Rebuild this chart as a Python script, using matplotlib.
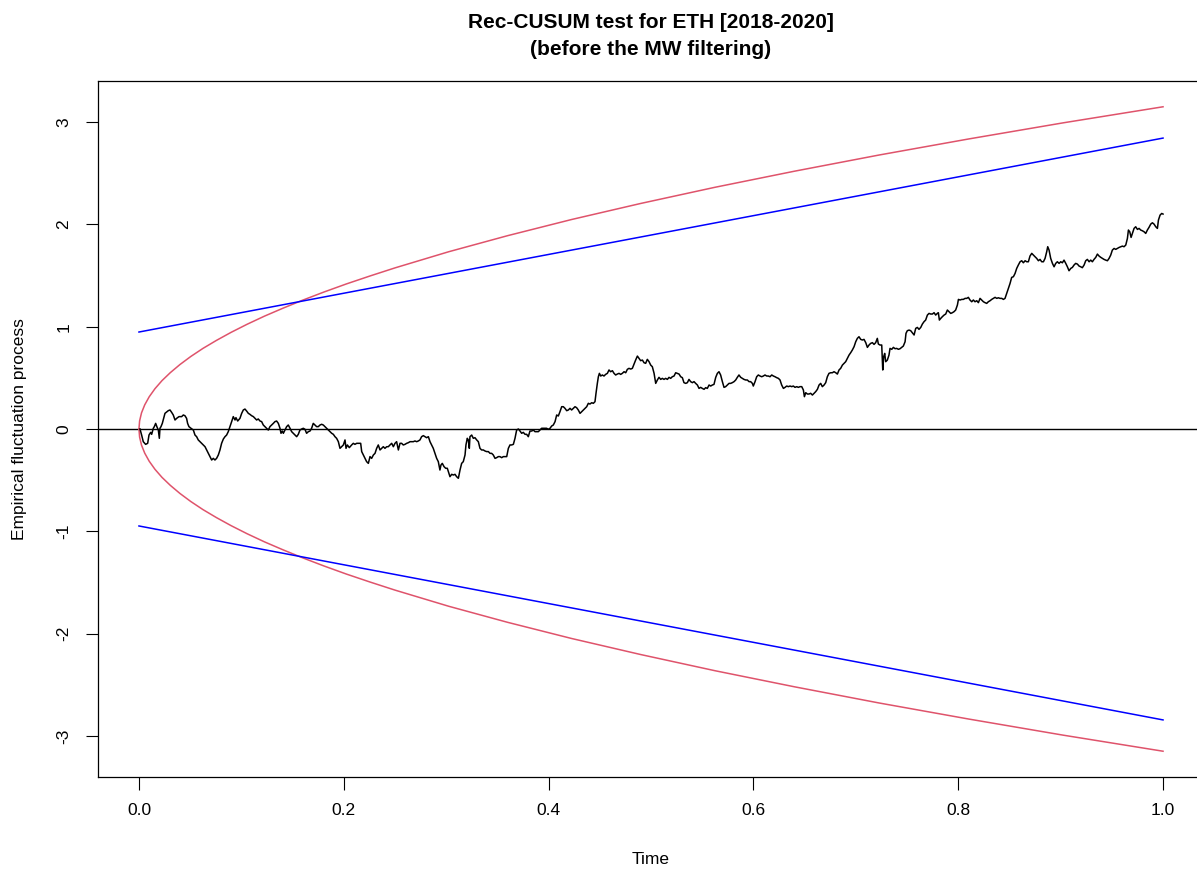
import matplotlib
matplotlib.use("Agg")
import matplotlib.pyplot as plt

plt.rcParams["font.family"] = ["Liberation Sans", "DejaVu Sans"]
plt.rcParams["axes.unicode_minus"] = False

# Rec-CUSUM empirical fluctuation process (time, value)
cusum_points = [
    (0.001, 0.0), (0.0026, -0.059), (0.0042, -0.124), (0.0065, -0.150), (0.0085, -0.140),
    (0.0098, -0.059), (0.0114, -0.033), (0.0124, -0.052), (0.0140, 0.007), (0.0150, 0.023),
    (0.0163, 0.055), (0.0176, 0.020), (0.0189, -0.010), (0.0199, -0.091), (0.0205, 0.007),
    (0.0215, 0.023), (0.0228, 0.055), (0.0241, 0.104), (0.0254, 0.153), (0.0273, 0.169),
    (0.0286, 0.179), (0.0303, 0.186), (0.0319, 0.163), (0.0335, 0.137), (0.0352, 0.088),
    (0.0368, 0.104), (0.0391, 0.121), (0.0417, 0.121), (0.0433, 0.137), (0.0449, 0.130),
    (0.0465, 0.104), (0.0475, 0.055), (0.0488, 0.023), (0.0508, 0.007), (0.0531, -0.010),
    (0.0547, -0.059), (0.0563, -0.075), (0.0579, -0.107), (0.0596, -0.124), (0.0612, -0.140),
    (0.0628, -0.156), (0.0645, -0.173), (0.0661, -0.205), (0.0677, -0.238), (0.0693, -0.270),
    (0.0710, -0.303), (0.0726, -0.287), (0.0742, -0.303), (0.0758, -0.287), (0.0775, -0.254),
    (0.0791, -0.205), (0.0807, -0.140), (0.0824, -0.098), (0.0840, -0.075), (0.0856, -0.059),
    (0.0872, -0.026), (0.0889, 0.023), (0.0905, 0.072), (0.0921, 0.121), (0.0938, 0.088),
    (0.0947, 0.111), (0.0964, 0.078), (0.0986, 0.104), (0.1003, 0.153), (0.1019, 0.186),
    (0.1035, 0.195), (0.1051, 0.176), (0.1068, 0.153), (0.1084, 0.143), (0.1100, 0.130),
    (0.1117, 0.121), (0.1133, 0.104), (0.1149, 0.088), (0.1165, 0.098), (0.1182, 0.078),
    (0.1198, 0.072), (0.1214, 0.039), (0.1230, 0.023), (0.1247, 0.007), (0.1263, -0.010),
    (0.1279, 0.023), (0.1296, 0.039), (0.1312, 0.055), (0.1328, 0.072), (0.1344, 0.078),
    (0.1361, 0.055), (0.1377, 0.007), (0.1387, -0.042), (0.1400, -0.020), (0.1410, -0.042),
    (0.1426, -0.010), (0.1442, 0.023), (0.1458, 0.039), (0.1475, 0.007), (0.1491, -0.026),
    (0.1507, -0.042), (0.1523, -0.059), (0.1540, -0.075), (0.1556, -0.052), (0.1572, -0.010),
    (0.1589, 0.0), (0.1605, 0.007), (0.1621, -0.003), (0.1637, -0.042), (0.1654, -0.026),
    (0.1670, -0.020), (0.1686, 0.007), (0.1702, 0.055), (0.1719, 0.039), (0.1735, 0.023),
    (0.1751, 0.023), (0.1768, 0.039), (0.1784, 0.046), (0.1800, 0.039), (0.1816, 0.023),
    (0.1833, 0.007), (0.1849, -0.010), (0.1865, -0.026), (0.1882, -0.042), (0.1898, -0.052),
    (0.1914, -0.075), (0.1930, -0.091), (0.1947, -0.124), (0.1963, -0.189),
    (0.1979, -0.173), (0.1996, -0.156), (0.2012, -0.107), (0.2022, -0.189), (0.2035, -0.156),
    (0.2054, -0.182), (0.2077, -0.156), (0.2093, -0.140), (0.2109, -0.150), (0.2126, -0.140),
    (0.2142, -0.140), (0.2165, -0.140), (0.2175, -0.221), (0.2191, -0.254), (0.2207, -0.287),
    (0.2223, -0.319), (0.2240, -0.336), (0.2256, -0.270), (0.2272, -0.287), (0.2289, -0.254),
    (0.2305, -0.238), (0.2321, -0.189), (0.2337, -0.156), (0.2354, -0.205), (0.2370, -0.189),
    (0.2386, -0.173), (0.2402, -0.189), (0.2419, -0.173), (0.2435, -0.173), (0.2451, -0.156),
    (0.2468, -0.140), (0.2484, -0.173), (0.2500, -0.140), (0.2516, -0.124), (0.2533, -0.205),
    (0.2549, -0.140), (0.2565, -0.140), (0.2581, -0.156), (0.2598, -0.150), (0.2614, -0.140),
    (0.2630, -0.134), (0.2647, -0.124), (0.2663, -0.124), (0.2679, -0.124), (0.2695, -0.117),
    (0.2712, -0.124), (0.2728, -0.117), (0.2744, -0.107), (0.2760, -0.075), (0.2777, -0.065),
    (0.2793, -0.075), (0.2809, -0.085), (0.2826, -0.075), (0.2842, -0.124), (0.2858, -0.156),
    (0.2874, -0.189), (0.2891, -0.238), (0.2907, -0.287), (0.2923, -0.319), (0.2939, -0.401),
    (0.2949, -0.352), (0.2962, -0.336), (0.2979, -0.368), (0.2995, -0.384), (0.3011, -0.384),
    (0.3027, -0.433), (0.3037, -0.466), (0.3054, -0.443), (0.3070, -0.450), (0.3086, -0.443),
    (0.3102, -0.466), (0.3119, -0.482), (0.3135, -0.401), (0.3151, -0.336), (0.3167, -0.319),
    (0.3184, -0.254), (0.3193, -0.156), (0.3206, -0.091), (0.3216, -0.107), (0.3226, -0.189),
    (0.3232, -0.075), (0.3249, -0.059), (0.3265, -0.091), (0.3281, -0.085), (0.3298, -0.107),
    (0.3314, -0.124), (0.3330, -0.189), (0.3346, -0.205), (0.3363, -0.205), (0.3379, -0.215),
    (0.3395, -0.221), (0.3412, -0.221), (0.3428, -0.238), (0.3444, -0.238), (0.3460, -0.254),
    (0.3477, -0.287), (0.3493, -0.280), (0.3509, -0.270), (0.3525, -0.270), (0.3542, -0.280),
    (0.3558, -0.270), (0.3574, -0.270), (0.3591, -0.270), (0.3607, -0.189), (0.3623, -0.156),
    (0.3639, -0.156), (0.3656, -0.150), (0.3672, -0.091), (0.3688, -0.010), (0.3705, 0.000),
    (0.3721, -0.020), (0.3737, -0.042), (0.3753, -0.033), (0.3770, -0.052), (0.3786, -0.052),
    (0.3802, -0.075), (0.3818, -0.020), (0.3835, -0.020), (0.3851, -0.010), (0.3867, -0.026),
    (0.3884, -0.026), (0.3900, -0.026), (0.3916, -0.010), (0.3932, 0.007), (0.3949, 0.007),
    (0.3965, 0.007), (0.3981, 0.007), (0.3997, -0.003), (0.4014, 0.007), (0.4030, 0.029),
    (0.4046, 0.039), (0.4063, 0.072), (0.4079, 0.137), (0.4095, 0.127), (0.4111, 0.169),
    (0.4128, 0.218), (0.4144, 0.218), (0.4160, 0.202), (0.4177, 0.179), (0.4193, 0.186),
    (0.4209, 0.202), (0.4225, 0.186), (0.4242, 0.202), (0.4258, 0.218), (0.4274, 0.208),
    (0.4290, 0.186), (0.4307, 0.153), (0.4323, 0.169), (0.4339, 0.186), (0.4356, 0.202),
    (0.4372, 0.218), (0.4388, 0.251), (0.4404, 0.244), (0.4421, 0.257), (0.4437, 0.251),
    (0.4453, 0.267), (0.4463, 0.349), (0.4476, 0.446), (0.4486, 0.511), (0.4496, 0.544),
    (0.4509, 0.518), (0.4525, 0.528), (0.4541, 0.518), (0.4557, 0.534), (0.4574, 0.544),
    (0.4590, 0.577), (0.4606, 0.560), (0.4623, 0.570), (0.4639, 0.544), (0.4655, 0.528),
    (0.4671, 0.537), (0.4688, 0.544), (0.4704, 0.534), (0.4720, 0.544), (0.4737, 0.560),
    (0.4753, 0.550), (0.4769, 0.583), (0.4785, 0.593), (0.4802, 0.586), (0.4818, 0.593),
    (0.4834, 0.635), (0.4850, 0.674), (0.4867, 0.713), (0.4883, 0.691), (0.4899, 0.668),
    (0.4916, 0.674), (0.4932, 0.648), (0.4948, 0.642), (0.4964, 0.681), (0.4981, 0.658),
    (0.4997, 0.625), (0.5013, 0.609), (0.5030, 0.544), (0.5046, 0.446), (0.5062, 0.479),
    (0.5078, 0.505), (0.5095, 0.485), (0.5111, 0.495), (0.5127, 0.485), (0.5143, 0.495),
    (0.5160, 0.485), (0.5176, 0.505), (0.5192, 0.495), (0.5208, 0.511), (0.5225, 0.518),
    (0.5241, 0.550), (0.5257, 0.544), (0.5274, 0.537), (0.5290, 0.511), (0.5306, 0.502),
    (0.5322, 0.453), (0.5339, 0.446), (0.5355, 0.453), (0.5371, 0.485), (0.5387, 0.463),
    (0.5404, 0.453), (0.5420, 0.463), (0.5436, 0.446), (0.5453, 0.430), (0.5469, 0.397),
    (0.5485, 0.407), (0.5501, 0.397), (0.5518, 0.388), (0.5534, 0.404), (0.5550, 0.397),
    (0.5567, 0.430), (0.5583, 0.420), (0.5599, 0.430), (0.5615, 0.436), (0.5632, 0.505),
    (0.5648, 0.544), (0.5664, 0.560), (0.5680, 0.528), (0.5697, 0.463), (0.5713, 0.407),
    (0.5729, 0.414), (0.5746, 0.430), (0.5762, 0.446), (0.5778, 0.446), (0.5794, 0.453),
    (0.5811, 0.463), (0.5827, 0.479), (0.5843, 0.505), (0.5859, 0.528), (0.5876, 0.505),
    (0.5892, 0.495), (0.5908, 0.485), (0.5925, 0.479), (0.5941, 0.479), (0.5957, 0.463),
    (0.5973, 0.463), (0.5990, 0.446),
    (0.5999, 0.420), (0.6016, 0.463), (0.6032, 0.511), (0.6048, 0.528), (0.6065, 0.518),
    (0.6081, 0.511), (0.6097, 0.518), (0.6113, 0.528), (0.6130, 0.518), (0.6146, 0.518),
    (0.6162, 0.511), (0.6179, 0.528), (0.6195, 0.518), (0.6211, 0.511), (0.6227, 0.502),
    (0.6244, 0.495), (0.6260, 0.479), (0.6276, 0.430), (0.6293, 0.397), (0.6309, 0.407),
    (0.6325, 0.420), (0.6341, 0.414), (0.6358, 0.420), (0.6374, 0.414), (0.6390, 0.420),
    (0.6406, 0.407), (0.6423, 0.414), (0.6439, 0.407), (0.6455, 0.414), (0.6472, 0.414),
    (0.6488, 0.381), (0.6498, 0.316), (0.6511, 0.355), (0.6527, 0.342), (0.6543, 0.342),
    (0.6559, 0.349), (0.6576, 0.332), (0.6592, 0.349), (0.6608, 0.365), (0.6625, 0.388),
    (0.6641, 0.430), (0.6657, 0.446), (0.6673, 0.414), (0.6690, 0.430), (0.6706, 0.453),
    (0.6722, 0.511), (0.6738, 0.544), (0.6755, 0.550), (0.6771, 0.550), (0.6787, 0.560),
    (0.6804, 0.550), (0.6820, 0.537), (0.6836, 0.577), (0.6852, 0.593), (0.6869, 0.625),
    (0.6885, 0.642), (0.6901, 0.658), (0.6918, 0.691), (0.6934, 0.723), (0.6950, 0.746),
    (0.6966, 0.772), (0.6983, 0.805), (0.6999, 0.853), (0.7015, 0.886), (0.7031, 0.902),
    (0.7048, 0.876), (0.7064, 0.870), (0.7080, 0.876), (0.7097, 0.844), (0.7113, 0.798),
    (0.7129, 0.821), (0.7145, 0.837), (0.7162, 0.844), (0.7178, 0.827), (0.7194, 0.844),
    (0.7210, 0.886), (0.7220, 0.831), (0.7236, 0.821), (0.7253, 0.821), (0.7263, 0.577),
    (0.7272, 0.707), (0.7282, 0.739), (0.7292, 0.658), (0.7308, 0.674), (0.7324, 0.723),
    (0.7334, 0.788), (0.7351, 0.779), (0.7367, 0.798), (0.7383, 0.785), (0.7399, 0.788),
    (0.7416, 0.779), (0.7432, 0.785), (0.7448, 0.798), (0.7464, 0.811), (0.7481, 0.853),
    (0.7490, 0.935), (0.7503, 0.961), (0.7520, 0.967), (0.7536, 0.961), (0.7552, 0.941),
    (0.7569, 0.919), (0.7585, 0.984), (0.7601, 0.993), (0.7617, 0.974), (0.7634, 0.993),
    (0.7650, 1.026), (0.7666, 1.049), (0.7682, 1.065), (0.7699, 1.114), (0.7715, 1.130),
    (0.7731, 1.124), (0.7748, 1.124), (0.7764, 1.137), (0.7780, 1.114), (0.7796, 1.130),
    (0.7806, 1.137), (0.7816, 1.065), (0.7829, 1.081), (0.7845, 1.098), (0.7862, 1.114),
    (0.7878, 1.124), (0.7894, 1.163), (0.7910, 1.147), (0.7927, 1.130), (0.7943, 1.137),
    (0.7959, 1.147), (0.7975, 1.163), (0.7992, 1.212),
    (0.8002, 1.267), (0.8018, 1.261), (0.8034, 1.267), (0.8050, 1.267), (0.8067, 1.277),
    (0.8083, 1.277), (0.8099, 1.287), (0.8115, 1.261), (0.8132, 1.244), (0.8148, 1.261),
    (0.8164, 1.244), (0.8181, 1.254), (0.8197, 1.235), (0.8213, 1.277), (0.8229, 1.261),
    (0.8246, 1.244), (0.8262, 1.235), (0.8278, 1.228), (0.8294, 1.244), (0.8311, 1.254),
    (0.8327, 1.267), (0.8343, 1.277), (0.8360, 1.287), (0.8376, 1.277), (0.8392, 1.283),
    (0.8408, 1.277), (0.8425, 1.277), (0.8441, 1.267), (0.8457, 1.277), (0.8474, 1.326),
    (0.8490, 1.375), (0.8506, 1.423), (0.8522, 1.482), (0.8539, 1.489), (0.8555, 1.521),
    (0.8571, 1.570), (0.8587, 1.603), (0.8604, 1.635), (0.8620, 1.645), (0.8636, 1.625),
    (0.8653, 1.645), (0.8669, 1.635), (0.8685, 1.635), (0.8701, 1.691), (0.8718, 1.717),
    (0.8734, 1.700), (0.8750, 1.684), (0.8766, 1.668), (0.8783, 1.645), (0.8799, 1.658),
    (0.8815, 1.635), (0.8832, 1.635), (0.8848, 1.668), (0.8864, 1.733), (0.8874, 1.782),
    (0.8887, 1.749), (0.8903, 1.668), (0.8920, 1.619), (0.8936, 1.586), (0.8952, 1.619),
    (0.8968, 1.635), (0.8985, 1.619), (0.9001, 1.635), (0.9017, 1.625), (0.9033, 1.651),
    (0.9050, 1.619), (0.9066, 1.586), (0.9082, 1.547), (0.9099, 1.570), (0.9115, 1.580),
    (0.9131, 1.603), (0.9147, 1.619), (0.9164, 1.612), (0.9180, 1.593), (0.9196, 1.586),
    (0.9212, 1.577), (0.9229, 1.603), (0.9245, 1.645), (0.9261, 1.658), (0.9278, 1.635),
    (0.9294, 1.651), (0.9310, 1.635), (0.9326, 1.658), (0.9343, 1.678), (0.9359, 1.710),
    (0.9375, 1.691), (0.9392, 1.678), (0.9408, 1.668), (0.9424, 1.658), (0.9440, 1.651),
    (0.9457, 1.645), (0.9473, 1.668), (0.9489, 1.700), (0.9505, 1.749), (0.9522, 1.765),
    (0.9538, 1.756), (0.9554, 1.765), (0.9571, 1.775), (0.9587, 1.782), (0.9603, 1.788),
    (0.9619, 1.782), (0.9636, 1.798), (0.9652, 1.863), (0.9662, 1.945), (0.9675, 1.928),
    (0.9688, 1.873), (0.9701, 1.912), (0.9717, 1.961), (0.9733, 1.977), (0.9750, 1.951),
    (0.9766, 1.961), (0.9782, 1.945), (0.9798, 1.938), (0.9815, 1.928), (0.9831, 1.912),
    (0.9847, 1.945), (0.9863, 1.971), (0.9880, 2.003), (0.9896, 2.016), (0.9912, 2.003),
    (0.9929, 1.977), (0.9945, 1.961), (0.9955, 2.042), (0.9971, 2.091), (0.9987, 2.107),
    (1.0000, 2.101),
]
cusum_t = [p[0] for p in cusum_points]
cusum_y = [p[1] for p in cusum_points]

# linear (blue) boundary, start and end values
lin_t = [0.0, 1.0]
lin_upper = [0.948, 2.844]

# square-root (red) boundary
sqrt_t = [0.0, 0.000625, 0.0025, 0.005625, 0.01, 0.015625, 0.0225, 0.030625, 0.04,
          0.050625, 0.0625, 0.075625, 0.09, 0.105625, 0.1225, 0.140625, 0.16, 0.180625,
          0.2025, 0.225625, 0.25, 0.3025, 0.36, 0.4225, 0.49, 0.5625, 0.64, 0.7225,
          0.81, 0.9025, 1.0]
sqrt_upper = [0.0, 0.079, 0.158, 0.236, 0.315, 0.394, 0.473, 0.551, 0.63,
              0.709, 0.788, 0.866, 0.945, 1.024, 1.103, 1.181, 1.26, 1.339,
              1.418, 1.496, 1.575, 1.733, 1.89, 2.048, 2.205, 2.363, 2.52, 2.678,
              2.835, 2.993, 3.15]

x_ticks = [0.0, 0.2, 0.4, 0.6, 0.8, 1.0]
y_ticks = [-3, -2, -1, 0, 1, 2, 3]

fig = plt.figure(figsize=(11.97, 8.73), dpi=100)
ax = fig.add_axes([98 / 1197, 96 / 873, (1204 - 98) / 1197, (777 - 81) / 873])

ax.axhline(0, color="black", lw=1.0)
ax.plot(sqrt_t, sqrt_upper, color="#DF536B", lw=1.1)
ax.plot(sqrt_t, [-v for v in sqrt_upper], color="#DF536B", lw=1.1)
ax.plot(lin_t, lin_upper, color="blue", lw=1.1)
ax.plot(lin_t, [-v for v in lin_upper], color="blue", lw=1.1)
ax.plot(cusum_t, cusum_y, color="black", lw=1.1)

ax.set_xlim(-0.04, 1.04)
ax.set_ylim(-3.402, 3.402)
ax.set_xticks(x_ticks)
ax.set_xticklabels([f"{v:.1f}" for v in x_ticks])
ax.set_yticks(y_ticks)
ax.set_yticklabels([str(v) for v in y_ticks], rotation=90, va="center")
ax.tick_params(axis="both", labelsize=12.5, length=9, width=0.8, pad=10)
for s in ax.spines.values():
    s.set_linewidth(0.9)

ax.set_xlabel("Time", fontsize=12.5, labelpad=24)
ax.set_ylabel("Empirical fluctuation process", fontsize=12.5, labelpad=21)
ax.set_title("Rec-CUSUM test for ETH [2018-2020]\n(before the MW filtering)",
             fontsize=15, fontweight="bold", pad=19, linespacing=1.5)

fig.savefig("out.png", dpi=100)
